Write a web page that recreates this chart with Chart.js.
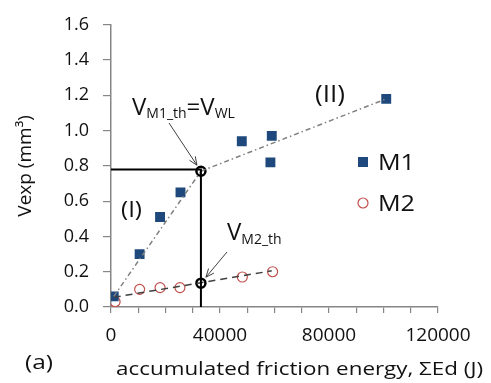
<!DOCTYPE html>
<html>
<head>
<meta charset="utf-8">
<script src="https://cdn.jsdelivr.net/npm/chart.js@4.4.0/dist/chart.umd.min.js"></script>
<style>
  html, body { margin: 0; padding: 0; background: #fff; }
  #wrap { width: 491px; height: 383px; position: relative; }
</style>
</head>
<body>
<div id="wrap"><canvas id="myChart" width="491" height="383"></canvas></div>
<script>
// measured points (friction energy in J, volume in mm3)
const m1Energy = [1000, 10500, 18000, 25500, 48000, 59000, 58500, 101000];
const m1Vexp   = [0.06, 0.30, 0.51, 0.65, 0.94, 0.97, 0.82, 1.18];
const m2Energy = [1500, 10500, 18000, 25300, 48200, 59300];
const m2Vexp   = [0.03, 0.10, 0.11, 0.11, 0.17, 0.20];

// trend lines
const trendIEnergy  = [1000, 33000];
const trendIVexp    = [0.06, 0.77];
const trendIIEnergy = [33000, 101000];
const trendIIVexp   = [0.77, 1.18];
const trendM2Energy = [1000, 59000];
const trendM2Vexp   = [0.055, 0.205];

// thresholds
const thEnergy = [33000, 33000];
const thVexp   = [0.77, 0.135];
const guideEnergy = [0, 33000, 33000];
const guideVexp   = [0.78, 0.78, 0];

const yTicks = [0, 0.2, 0.4, 0.6, 0.8, 1.0, 1.2, 1.4, 1.6];
const xLabels = [0, 40000, 80000, 120000];

const FONT = "'Open Sans', 'Liberation Sans', sans-serif";
const INK = '#111';

function pts(xs, ys) {
    return xs.map((x, i) => ({ x: x, y: ys[i] }));
}

// draws the text bits, arrows and legend that sit on top of the plot
const notesPlugin = {
    id: 'notes',
    afterDatasetsDraw(chart) {
        const ctx = chart.ctx;
        const xs = chart.scales.x, ys = chart.scales.y;
        ctx.save();
        ctx.fillStyle = INK;
        ctx.textBaseline = 'alphabetic';
        ctx.textAlign = 'left';

        // text squeezed/stretched to the width it has in the original
        function txt(t, x, y, size, w) {
            ctx.font = size + 'px ' + FONT;
            const m = ctx.measureText(t).width;
            const k = w ? w / m : 1;
            ctx.save();
            ctx.translate(x, y);
            ctx.scale(k, 1);
            ctx.fillText(t, 0, 0);
            ctx.restore();
        }

        // V with subscript helper
        function vSub(x, y, parts) {
            let cx = x;
            parts.forEach(p => {
                ctx.font = p.size + 'px ' + FONT;
                ctx.fillText(p.t, cx, y + (p.dy || 0));
                cx += ctx.measureText(p.t).width;
            });
        }
        vSub(132, 115, [
            { t: 'V', size: 24 },
            { t: 'M1_th', size: 14, dy: 3 },
            { t: '=V', size: 24 },
            { t: 'WL', size: 14, dy: 3 }
        ]);
        vSub(227, 240, [
            { t: 'V', size: 24 },
            { t: 'M2_th', size: 14, dy: 4 }
        ]);

        txt('(I)', 121, 217, 22, 21);
        txt('(II)', 315, 102, 23, 30);

        // arrows to the threshold points
        function arrow(x0, y0, x1, y1) {
            ctx.strokeStyle = '#404040';
            ctx.lineWidth = 1;
            ctx.setLineDash([]);
            ctx.beginPath();
            ctx.moveTo(x0, y0);
            ctx.lineTo(x1, y1);
            ctx.stroke();
            const a = Math.atan2(y1 - y0, x1 - x0);
            const L = 9;
            ctx.beginPath();
            ctx.moveTo(x1 - L * Math.cos(a - 0.4), y1 - L * Math.sin(a - 0.4));
            ctx.lineTo(x1, y1);
            ctx.lineTo(x1 - L * Math.cos(a + 0.4), y1 - L * Math.sin(a + 0.4));
            ctx.stroke();
        }
        const p1x = xs.getPixelForValue(thEnergy[0]), p1y = ys.getPixelForValue(thVexp[0]);
        const p2x = xs.getPixelForValue(thEnergy[1]), p2y = ys.getPixelForValue(thVexp[1]);
        arrow(169, 123, p1x - 4, p1y - 6);
        arrow(227, 252, p2x + 5, p2y - 6);

        // legend
        ctx.fillStyle = '#1F497D';
        ctx.fillRect(358, 157, 10, 10);
        ctx.strokeStyle = '#C0504D';
        ctx.lineWidth = 1.2;
        ctx.beginPath();
        ctx.arc(363, 203, 5, 0, Math.PI * 2);
        ctx.stroke();
        ctx.fillStyle = INK;
        txt('M1', 378, 170, 21, 37);
        txt('M2', 378, 211, 21, 37);

        // x axis title and panel label
        txt('accumulated friction energy, \u03A3Ed (J)', 116, 375, 19, 367);
        txt('(a)', 25, 369, 20, 28);
        ctx.restore();
    }
};

const ctx = document.getElementById('myChart').getContext('2d');
const myChart = new Chart(ctx, {
    type: 'scatter',
    data: {
        datasets: [
            {
                label: 'guide',
                data: pts(guideEnergy, guideVexp),
                showLine: true,
                borderColor: '#000',
                borderWidth: 2,
                pointRadius: 0
            },
            {
                label: 'trend I',
                data: pts(trendIEnergy, trendIVexp),
                showLine: true,
                borderColor: '#808080',
                borderWidth: 1.5,
                borderDash: [5, 3, 1.5, 3],
                pointRadius: 0
            },
            {
                label: 'trend II',
                data: pts(trendIIEnergy, trendIIVexp),
                showLine: true,
                borderColor: '#808080',
                borderWidth: 1.5,
                borderDash: [5, 3, 1.5, 3],
                pointRadius: 0
            },
            {
                label: 'trend M2',
                data: pts(trendM2Energy, trendM2Vexp),
                showLine: true,
                borderColor: '#404040',
                borderWidth: 1.5,
                borderDash: [7, 5],
                pointRadius: 0
            },
            {
                label: 'M1',
                data: pts(m1Energy, m1Vexp),
                pointStyle: 'rect',
                pointRadius: 7,
                backgroundColor: '#1F497D',
                borderColor: '#1F497D',
                borderWidth: 0
            },
            {
                label: 'M2',
                data: pts(m2Energy, m2Vexp),
                pointStyle: 'circle',
                pointRadius: 5,
                backgroundColor: 'rgba(255,255,255,0)',
                borderColor: '#C0504D',
                borderWidth: 1.2
            },
            {
                label: 'threshold',
                data: pts(thEnergy, thVexp),
                pointStyle: 'circle',
                pointRadius: 4.5,
                backgroundColor: '#fff',
                borderColor: '#000',
                borderWidth: 2.5
            }
        ]
    },
    options: {
        responsive: false,
        animation: false,
        layout: { padding: { left: 0, right: 53, top: 19, bottom: 0 } },
        plugins: {
            legend: { display: false },
            tooltip: { enabled: false }
        },
        scales: {
            x: {
                type: 'linear',
                min: 0,
                max: 120000,
                border: { color: '#868686', width: 1.5 },
                grid: { drawOnChartArea: false, drawTicks: true, tickLength: 6, color: '#868686', lineWidth: 1.2 },
                ticks: {
                    stepSize: 10000,
                    autoSkip: false,
                    maxRotation: 0,
                    padding: 11,
                    color: INK,
                    font: { family: FONT, size: 19 },
                    callback: v => xLabels.includes(v) ? String(v) : ''
                },
                afterFit: s => { s.height = 76; }
            },
            y: {
                type: 'linear',
                min: 0,
                max: 1.6,
                border: { color: '#868686', width: 1.5 },
                grid: { drawOnChartArea: false, drawTicks: true, tickLength: 8, color: '#868686', lineWidth: 1.2 },
                ticks: {
                    stepSize: 0.2,
                    padding: 14,
                    color: INK,
                    font: { family: FONT, size: 18 },
                    callback: v => yTicks.some(t => Math.abs(t - v) < 1e-6) ? v.toFixed(1) : ''
                },
                title: {
                    display: true,
                    text: 'Vexp (mm\u00B3)',
                    color: INK,
                    font: { family: FONT, size: 19 },
                    padding: { top: 14, bottom: 0 }
                },
                afterFit: s => { s.width = 111; }
            }
        }
    },
    plugins: [notesPlugin]
});
</script>
</body>
</html>
